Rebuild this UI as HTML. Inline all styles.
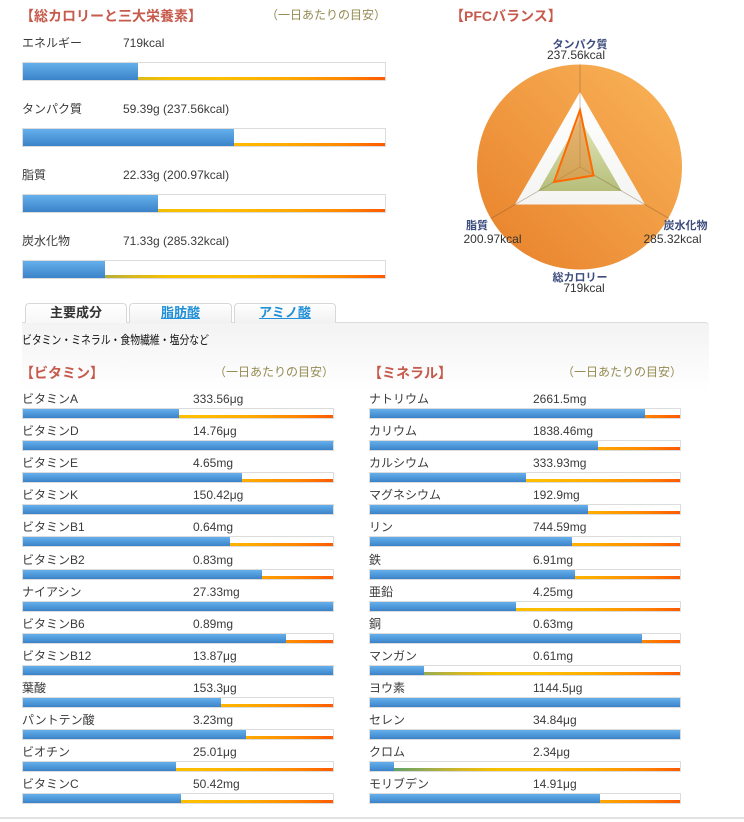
<!DOCTYPE html>
<html><head><meta charset="utf-8">
<style>
*{margin:0;padding:0;box-sizing:border-box}
html,body{width:744px;height:822px;overflow:hidden;background:#fff}
body{position:relative;font-family:"Liberation Sans","Noto Sans CJK JP",sans-serif;color:#333;font-size:12px}
.t{position:absolute;white-space:nowrap;line-height:16px;font-size:12px;color:#3a3a3a}
.h{position:absolute;white-space:nowrap;font-size:14px;font-weight:bold;color:#c65a4c;line-height:16px;font-family:"Liberation Sans","Noto Sans CJK JP",sans-serif}
.m{position:absolute;white-space:nowrap;font-size:12px;color:#958a52;line-height:16px}
.bar{position:absolute;border:1px solid #dcdcdc;background:#fff;overflow:hidden}
.bar .ln{position:absolute;left:0;right:0;bottom:0;height:3px;background:linear-gradient(to right,#3d9a86 0%,#6ea462 10%,#a4ae48 20%,#d6b820 30%,#f6c000 40%,#ffbe00 55%,#ffac00 72%,#ff8800 88%,#ff5a00 100%)}
.bar .f{position:absolute;left:0;top:0;bottom:0;background:linear-gradient(#65b0ec,#3b82c8)}
.sb{height:11px;width:312px}
.bb{height:19px;width:364px;left:22px}
.tab{position:absolute;top:303px;height:20px;border:1px solid #d8d8d8;border-bottom:none;border-radius:4px 4px 0 0;background:linear-gradient(#ffffff,#f1f1f1);text-align:center;font-size:13px;font-weight:bold;line-height:18px}
.tab a{color:#1e8fd8;text-decoration:underline}
</style>
</head>
<body>

<!-- Top section -->
<div class="h" style="left:20px;top:8px">【総カロリーと三大栄養素】</div>
<div class="m" style="left:266px;top:7px">（一日あたりの目安）</div>

<div class="t" style="left:22px;top:35px">エネルギー</div>
<div class="t" style="left:123px;top:35px">719kcal</div>
<div class="bar bb" style="top:62px"><div class="ln"></div><div class="f" style="width:115px"></div></div>

<div class="t" style="left:22px;top:101px">タンパク質</div>
<div class="t" style="left:123px;top:101px">59.39g (237.56kcal)</div>
<div class="bar bb" style="top:128px"><div class="ln"></div><div class="f" style="width:211px"></div></div>

<div class="t" style="left:22px;top:167px">脂質</div>
<div class="t" style="left:123px;top:167px">22.33g (200.97kcal)</div>
<div class="bar bb" style="top:194px"><div class="ln"></div><div class="f" style="width:135px"></div></div>

<div class="t" style="left:22px;top:233px">炭水化物</div>
<div class="t" style="left:123px;top:233px">71.33g (285.32kcal)</div>
<div class="bar bb" style="top:260px"><div class="ln"></div><div class="f" style="width:82px"></div></div>

<!-- PFC -->
<div class="h" style="left:450px;top:8px">【PFCバランス】</div>
<svg style="position:absolute;left:0;top:0" width="744" height="300" viewBox="0 0 744 300">
  <defs>
    <linearGradient id="og" x1="1" y1="0" x2="0" y2="1">
      <stop offset="0" stop-color="#fab55a"/>
      <stop offset="1" stop-color="#e7802a"/>
    </linearGradient>
    <linearGradient id="gg" x1="0" y1="0" x2="0" y2="1">
      <stop offset="0" stop-color="#e4e8bc"/>
      <stop offset="1" stop-color="#b6be7a"/>
    </linearGradient>
    <linearGradient id="wg" x1="0" y1="0" x2="0" y2="1">
      <stop offset="0" stop-color="#ffffff"/>
      <stop offset="1" stop-color="#f4f4f2"/>
    </linearGradient>
  </defs>
  <circle cx="579.5" cy="167" r="102.5" fill="url(#og)"/>
  <polygon points="580,92 515,204.5 645,204.5" fill="url(#wg)"/>
  <polygon points="580,119 538.4,191 621.6,191" fill="url(#gg)"/>
  <g stroke="rgba(110,80,50,0.35)" stroke-width="1">
    <line x1="580" y1="167" x2="580" y2="64.5"/>
    <line x1="580" y1="167" x2="491.2" y2="218.3"/>
    <line x1="580" y1="167" x2="668.8" y2="218.3"/>
  </g>
  <polygon points="580,110 593.5,175.5 554,182" fill="rgba(232,130,40,0.5)" stroke="#ff6a00" stroke-width="2" stroke-linejoin="miter"/>
  <g font-family="Liberation Sans, Noto Sans CJK JP, sans-serif" text-anchor="middle">
    <text x="580" y="48" font-size="11" font-weight="bold" fill="#3c4d7d">タンパク質</text>
    <text x="576" y="59" font-size="12" fill="#333">237.56kcal</text>
    <text x="477" y="229" font-size="11" font-weight="bold" fill="#3c4d7d">脂質</text>
    <text x="492.5" y="243" font-size="12" fill="#333">200.97kcal</text>
    <text x="685.5" y="229" font-size="11" font-weight="bold" fill="#3c4d7d">炭水化物</text>
    <text x="672.5" y="243" font-size="12" fill="#333">285.32kcal</text>
    <text x="580" y="281" font-size="11" font-weight="bold" fill="#3c4d7d">総カロリー</text>
    <text x="584" y="292" font-size="12" fill="#333">719kcal</text>
  </g>
</svg>

<!-- Panel / tabs -->
<div style="position:absolute;left:22px;top:322px;width:687px;height:70px;border-top:1px solid #dcdcdc;border-top-right-radius:4px;background:linear-gradient(#f3f3f3,#ffffff)"></div>
<div class="tab" style="left:25px;width:102px;color:#333;background:linear-gradient(#ffffff,#f7f7f7)">主要成分</div>
<div class="tab" style="left:129px;width:103px"><a>脂肪酸</a></div>
<div class="tab" style="left:234px;width:102px"><a>アミノ酸</a></div>

<div class="t" style="left:22px;top:332px;color:#111;transform:scaleX(0.82);transform-origin:left center">ビタミン・ミネラル・食物繊維・塩分など</div>

<div class="h" style="left:20px;top:365px">【ビタミン】</div>
<div class="m" style="left:214px;top:364px">（一日あたりの目安）</div>
<div class="h" style="left:368px;top:365px">【ミネラル】</div>
<div class="m" style="left:562px;top:364px">（一日あたりの目安）</div>

<!-- Vitamins -->
<div class="t" style="left:22px;top:391px">ビタミンA</div><div class="t" style="left:193px;top:391px">333.56μg</div>
<div class="bar sb" style="left:22px;top:408px"><div class="ln"></div><div class="f" style="width:156px"></div></div>

<div class="t" style="left:22px;top:423px">ビタミンD</div><div class="t" style="left:193px;top:423px">14.76μg</div>
<div class="bar sb" style="left:22px;top:440px"><div class="ln"></div><div class="f" style="width:310px"></div></div>

<div class="t" style="left:22px;top:455px">ビタミンE</div><div class="t" style="left:193px;top:455px">4.65mg</div>
<div class="bar sb" style="left:22px;top:472px"><div class="ln"></div><div class="f" style="width:219px"></div></div>

<div class="t" style="left:22px;top:487px">ビタミンK</div><div class="t" style="left:193px;top:487px">150.42μg</div>
<div class="bar sb" style="left:22px;top:504px"><div class="ln"></div><div class="f" style="width:310px"></div></div>

<div class="t" style="left:22px;top:519px">ビタミンB1</div><div class="t" style="left:193px;top:519px">0.64mg</div>
<div class="bar sb" style="left:22px;top:536px"><div class="ln"></div><div class="f" style="width:207px"></div></div>

<div class="t" style="left:22px;top:552px">ビタミンB2</div><div class="t" style="left:193px;top:552px">0.83mg</div>
<div class="bar sb" style="left:22px;top:569px"><div class="ln"></div><div class="f" style="width:239px"></div></div>

<div class="t" style="left:22px;top:584px">ナイアシン</div><div class="t" style="left:193px;top:584px">27.33mg</div>
<div class="bar sb" style="left:22px;top:601px"><div class="ln"></div><div class="f" style="width:310px"></div></div>

<div class="t" style="left:22px;top:616px">ビタミンB6</div><div class="t" style="left:193px;top:616px">0.89mg</div>
<div class="bar sb" style="left:22px;top:633px"><div class="ln"></div><div class="f" style="width:263px"></div></div>

<div class="t" style="left:22px;top:648px">ビタミンB12</div><div class="t" style="left:193px;top:648px">13.87μg</div>
<div class="bar sb" style="left:22px;top:665px"><div class="ln"></div><div class="f" style="width:310px"></div></div>

<div class="t" style="left:22px;top:680px">葉酸</div><div class="t" style="left:193px;top:680px">153.3μg</div>
<div class="bar sb" style="left:22px;top:697px"><div class="ln"></div><div class="f" style="width:198px"></div></div>

<div class="t" style="left:22px;top:712px">パントテン酸</div><div class="t" style="left:193px;top:712px">3.23mg</div>
<div class="bar sb" style="left:22px;top:729px"><div class="ln"></div><div class="f" style="width:223px"></div></div>

<div class="t" style="left:22px;top:744px">ビオチン</div><div class="t" style="left:193px;top:744px">25.01μg</div>
<div class="bar sb" style="left:22px;top:761px"><div class="ln"></div><div class="f" style="width:153px"></div></div>

<div class="t" style="left:22px;top:776px">ビタミンC</div><div class="t" style="left:193px;top:776px">50.42mg</div>
<div class="bar sb" style="left:22px;top:793px"><div class="ln"></div><div class="f" style="width:158px"></div></div>

<!-- Minerals -->
<div class="t" style="left:369px;top:391px">ナトリウム</div><div class="t" style="left:533px;top:391px">2661.5mg</div>
<div class="bar sb" style="left:369px;top:408px"><div class="ln"></div><div class="f" style="width:275px"></div></div>

<div class="t" style="left:369px;top:423px">カリウム</div><div class="t" style="left:533px;top:423px">1838.46mg</div>
<div class="bar sb" style="left:369px;top:440px"><div class="ln"></div><div class="f" style="width:228px"></div></div>

<div class="t" style="left:369px;top:455px">カルシウム</div><div class="t" style="left:533px;top:455px">333.93mg</div>
<div class="bar sb" style="left:369px;top:472px"><div class="ln"></div><div class="f" style="width:156px"></div></div>

<div class="t" style="left:369px;top:487px">マグネシウム</div><div class="t" style="left:533px;top:487px">192.9mg</div>
<div class="bar sb" style="left:369px;top:504px"><div class="ln"></div><div class="f" style="width:218px"></div></div>

<div class="t" style="left:369px;top:519px">リン</div><div class="t" style="left:533px;top:519px">744.59mg</div>
<div class="bar sb" style="left:369px;top:536px"><div class="ln"></div><div class="f" style="width:202px"></div></div>

<div class="t" style="left:369px;top:552px">鉄</div><div class="t" style="left:533px;top:552px">6.91mg</div>
<div class="bar sb" style="left:369px;top:569px"><div class="ln"></div><div class="f" style="width:205px"></div></div>

<div class="t" style="left:369px;top:584px">亜鉛</div><div class="t" style="left:533px;top:584px">4.25mg</div>
<div class="bar sb" style="left:369px;top:601px"><div class="ln"></div><div class="f" style="width:146px"></div></div>

<div class="t" style="left:369px;top:616px">銅</div><div class="t" style="left:533px;top:616px">0.63mg</div>
<div class="bar sb" style="left:369px;top:633px"><div class="ln"></div><div class="f" style="width:272px"></div></div>

<div class="t" style="left:369px;top:648px">マンガン</div><div class="t" style="left:533px;top:648px">0.61mg</div>
<div class="bar sb" style="left:369px;top:665px"><div class="ln"></div><div class="f" style="width:54px"></div></div>

<div class="t" style="left:369px;top:680px">ヨウ素</div><div class="t" style="left:533px;top:680px">1144.5μg</div>
<div class="bar sb" style="left:369px;top:697px"><div class="ln"></div><div class="f" style="width:310px"></div></div>

<div class="t" style="left:369px;top:712px">セレン</div><div class="t" style="left:533px;top:712px">34.84μg</div>
<div class="bar sb" style="left:369px;top:729px"><div class="ln"></div><div class="f" style="width:310px"></div></div>

<div class="t" style="left:369px;top:744px">クロム</div><div class="t" style="left:533px;top:744px">2.34μg</div>
<div class="bar sb" style="left:369px;top:761px"><div class="ln"></div><div class="f" style="width:24px"></div></div>

<div class="t" style="left:369px;top:776px">モリブデン</div><div class="t" style="left:533px;top:776px">14.91μg</div>
<div class="bar sb" style="left:369px;top:793px"><div class="ln"></div><div class="f" style="width:230px"></div></div>

<div style="position:absolute;left:0;top:817px;width:744px;height:2px;background:#e2e2e2"></div>

</body></html>
